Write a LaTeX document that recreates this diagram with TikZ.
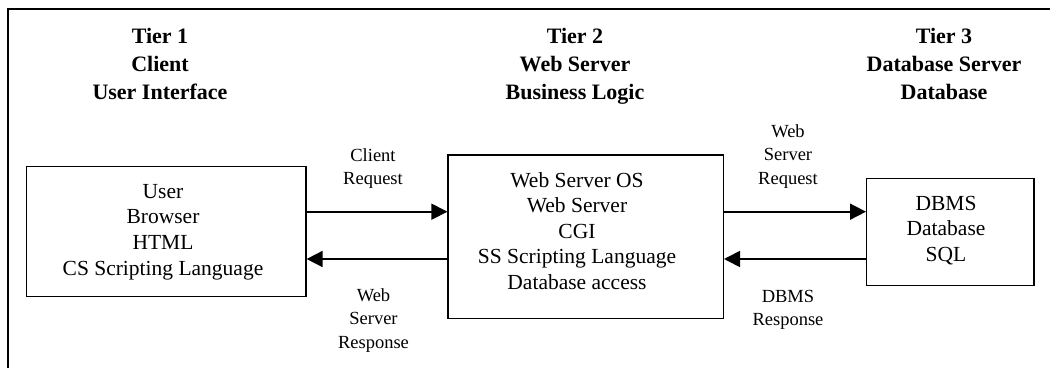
\documentclass[tikz,border=0pt]{standalone}
\usepackage{fontspec}
\setmainfont{Liberation Serif}
\usetikzlibrary{arrows.meta}
\tikzset{
  box/.style={draw, line width=1.3pt, inner sep=0pt},
  boxtext/.style={anchor=north, inner sep=0pt, align=center, font=\fontsize{21.5}{25.6}\selectfont},
  head/.style={anchor=north, inner sep=0pt, align=center, font=\fontsize{22}{28}\selectfont\bfseries},
  lbl/.style={anchor=north, inner sep=0pt, align=center, font=\fontsize{18.5}{23.5}\selectfont},
  arr/.style={line width=1.7pt, -{Triangle[length=16pt,width=16pt]}},
  frame/.style={line width=2.3pt}
}
\begin{document}
\begin{tikzpicture}[x=1pt,y=-1pt]
\useasboundingbox (0,0) rectangle (1050,367);
% frame
\coordinate (fbl) at (8,370);
\coordinate (ftl) at (8,9);
\coordinate (ftr) at (1053,9);
\draw[frame] (fbl) -- (ftl) -- (ftr);
% headings
\node[head] (h1) at (160,28) {Tier 1\\Client\\User Interface};
\node[head] (h2) at (575,28) {Tier 2\\Web Server\\Business Logic};
\node[head] (h3) at (944,28) {Tier 3\\Database Server\\Database};
% boxes
\node[box, minimum width=279.3pt, minimum height=130pt] (b1) at (166.3,231.7) {};
\node[box, minimum width=275.3pt, minimum height=163.3pt] (b2) at (585.7,236.7) {};
\node[box, minimum width=167.3pt, minimum height=107.3pt] (b3) at (950.3,232) {};
\node[boxtext] (t1) at (163,184) {User\\Browser\\HTML\\CS Scripting Language};
\node[boxtext] (t2) at (577,172) {Web Server OS\\Web Server\\CGI\\SS Scripting Language\\Database access};
\node[boxtext] (t3) at (946,195.9) {DBMS\\Database\\SQL};
% arrows
\coordinate (ya) at (0,211.7);
\coordinate (yb) at (0,259);
\draw[arr] (b1.east |- ya) -- (b2.west |- ya);
\draw[arr] (b2.west |- yb) -- (b1.east |- yb);
\draw[arr] (b2.east |- ya) -- (b3.west |- ya);
\draw[arr] (b3.west |- yb) -- (b2.east |- yb);
% labels
\node[lbl] (l1) at (373,148.1) {Client\\Request};
\node[lbl] (l2) at (373.5,288.4) {Web\\Server\\Response};
\node[lbl] (l3) at (788,124.1) {Web\\Server\\Request};
\node[lbl] (l4) at (788,289.6) {DBMS\\Response};
\end{tikzpicture}
\end{document}
